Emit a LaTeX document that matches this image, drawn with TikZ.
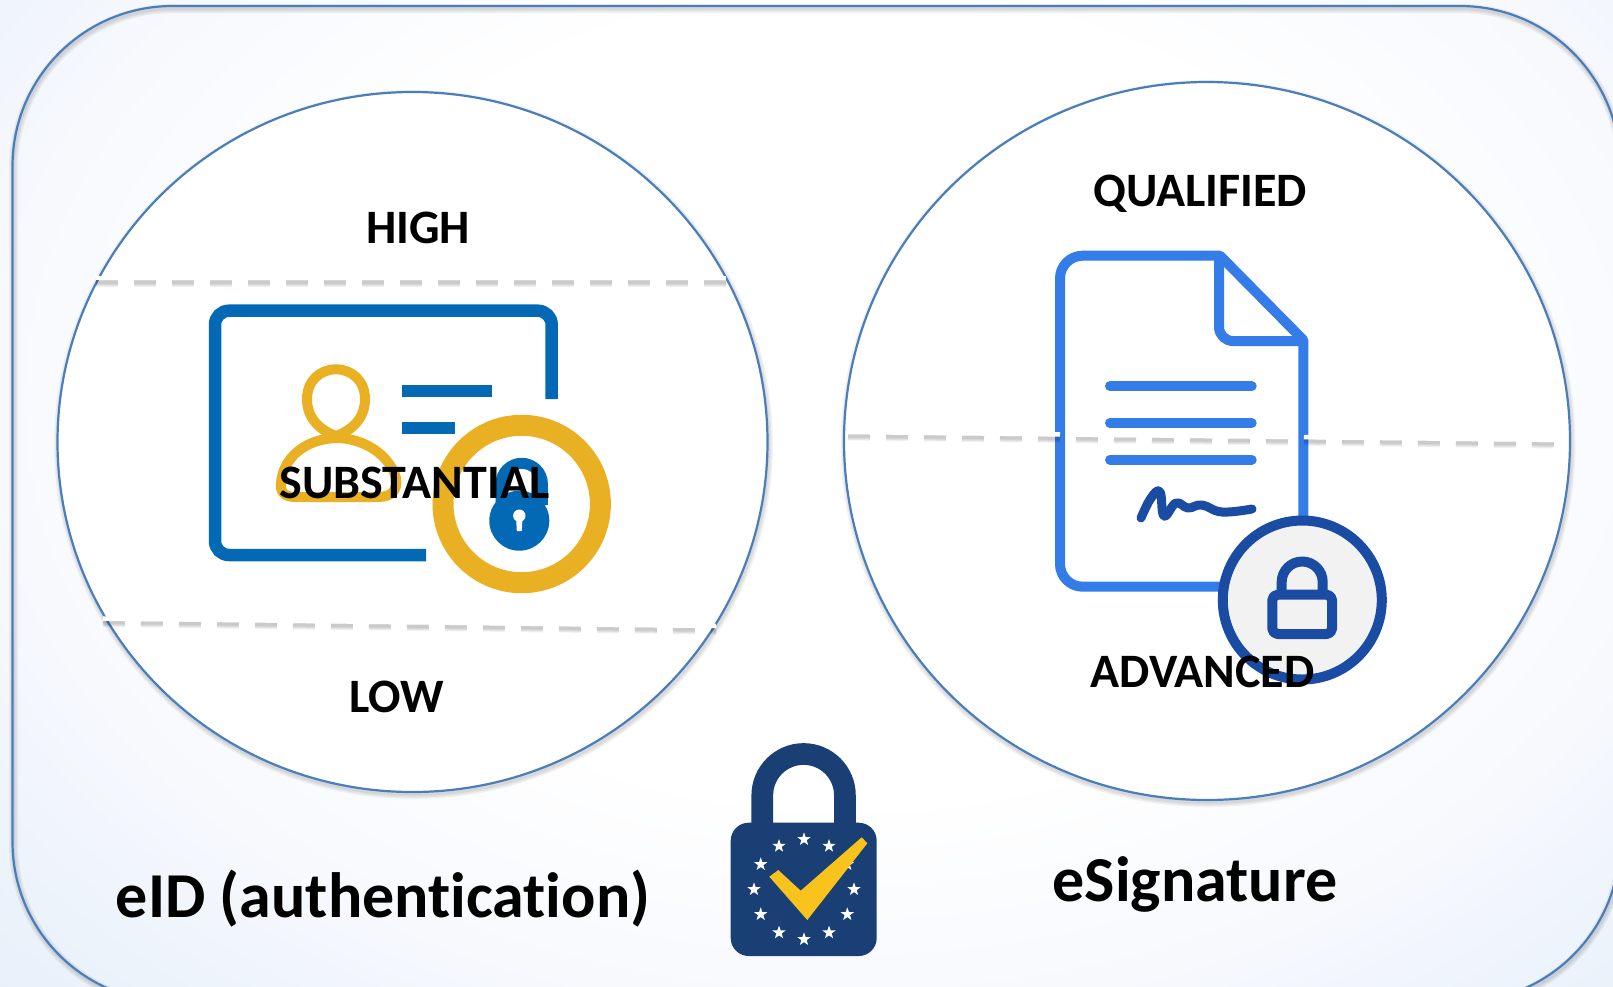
\documentclass[tikz,border=0pt]{standalone}
\usepackage{fontspec}
\setmainfont{Carlito}[Ligatures=CommonOff]
\definecolor{bga}{HTML}{F7F9FD}
\definecolor{bgc}{HTML}{F0F5FC}
\definecolor{bgd}{HTML}{EAF1FA}
\definecolor{bgb}{HTML}{E6EEF9}
\definecolor{frameblue}{HTML}{4A7EBB}
\definecolor{cardblue}{HTML}{0369B4}
\definecolor{gold}{HTML}{E9B023}
\definecolor{docblue}{HTML}{347DE9}
\definecolor{navyblue}{HTML}{1A4CA4}
\definecolor{eunavy}{HTML}{1A3F75}
\definecolor{eugold}{HTML}{F7C31C}
\pgfdeclareradialshading{bgsh}{\pgfpoint{0bp}{0bp}}{color(0bp)=(white); color(15bp)=(white); color(23bp)=(bga); color(27bp)=(bgc); color(31bp)=(bgd); color(36bp)=(bgb); color(50bp)=(bgb)}
\def\px{.75pt}
\tikzset{
  x=.75pt,y=-.75pt,
  frameline/.style={draw=frameblue,line width=2.2*\px},
  softshadow/.style={draw=black,draw opacity=.05,line width=#1*\px,yshift=-2.5*\px,xshift=1*\px},
  dashshadow/.style={draw=black,draw opacity=.055,line width=#1*\px,dash pattern=on 22*\px off 16*\px,yshift=-4*\px},
  dashwhite/.style={draw=white,line width=4.5*\px,dash pattern=on 22*\px off 16*\px},
  lab/.style={font=\bfseries\fontsize{36pt}{36pt}\selectfont,text=black,anchor=base,inner sep=0pt},
  biglab/.style={font=\bfseries\fontsize{48pt}{48pt}\selectfont,text=black,anchor=base,inner sep=0pt},
  card/.style={draw=cardblue,line width=12.5*\px},
  goldline/.style={draw=gold,line width=10*\px},
  docline/.style={draw=docblue,line width=10*\px,line join=round},
  docbar/.style={draw=docblue,line width=10*\px,line cap=round},
  navyline/.style={draw=navyblue,line width=10*\px,line join=round},
}
\newcommand{\eustar}[2]{\fill[white,shift={(#1,#2)}] (-90:7)--(-54:2.8)--(-18:7)--(18:2.8)--(54:7)--(90:2.8)--(126:7)--(162:2.8)--(198:7)--(234:2.8)--cycle;}
\newcommand{\dashrow}[4]{%
  \foreach \w in {9,7,5,3}{\draw[dashshadow=\w] (#1,#2) -- (#3,#4);}
  \draw[dashwhite] (#1,#2) -- (#3,#4);}
\begin{document}
\begin{tikzpicture}
\useasboundingbox (0,0) rectangle (1613,986);
\clip (0,0) rectangle (1613,986);
% background
\path[shading=bgsh] (-74,-260) rectangle (1774,1060);
% outer frame
\foreach \w in {9,6,3}{
  \draw[softshadow=\w,rounded corners=120pt] (12.5,6) rectangle (1620,1002);}
\draw[frameline,rounded corners=120pt] (12.5,6) rectangle (1620,1002);
% circles
\foreach \w in {9,6,3}{
  \draw[softshadow=\w] (412.5,442) ellipse [x radius=355,y radius=350];
  \draw[softshadow=\w] (1207,441) ellipse [x radius=363,y radius=359];}
\draw[frameline,fill=white] (412.5,442) ellipse [x radius=355,y radius=350];
\draw[frameline,fill=white] (1207,441) ellipse [x radius=363,y radius=359];
% ID card icon
\draw[card,rounded corners=10.5pt] (551.7,399) -- (551.7,310.7) -- (215,310.7) -- (215,555) -- (426,555);
\fill[cardblue] (401.7,385) rectangle (491.7,397.3);
\fill[cardblue] (401.7,422.3) rectangle (455,434.3);
\draw[goldline,line join=miter] (336,436) .. controls (322,431) and (307,420) .. (307,399)
  .. controls (307,381) and (320,369.3) .. (336,369.3)
  .. controls (352,369.3) and (365,381) .. (365,399)
  .. controls (365,420) and (350,431) .. (336,436);
\draw[goldline,line join=round] (336,438) .. controls (305,439) and (283,458) .. (281,483)
  .. controls (280,493) and (285,497) .. (296,497) -- (378,497)
  .. controls (392,497) and (398,490) .. (396,478)
  .. controls (390,456) and (365,438) .. (336,438) -- cycle;
\draw[draw=gold,line width=21*\px,fill=white] (521.7,504) circle [radius=78.7];
\draw[draw=cardblue,line width=11*\px] (501,505) -- (501,484) arc [start angle=180,end angle=360,radius=20.7] -- (542.4,505);
\fill[cardblue] (519.3,520.7) circle [radius=30];
\fill[white] (519.3,515.7) circle [radius=6.2];
\fill[white] (516,516) -- (522.6,516) -- (521.8,531) -- (516.8,531) -- cycle;
% document icon
\draw[docline,rounded corners=17pt] (1220,586.7) -- (1060,586.7) -- (1060,255.7) -- (1205,255.7);
\draw[docline] (1205,255.7) -- (1220,255.7) -- (1303.3,340) -- (1303.3,525);
\draw[docline,rounded corners=10.5pt] (1219,258) -- (1219,341) -- (1303.3,341);
\draw[docbar] (1110,386.3) -- (1251.7,386.3);
\draw[docbar] (1110,423) -- (1251.7,423);
\draw[docbar] (1110,459.7) -- (1251.7,459.7);
\draw[draw=navyblue,line width=9*\px,line cap=round,line join=round] plot[smooth,tension=.7] coordinates {(1141,518) (1151,498) (1160,492) (1164,516) (1176,503) (1188,508) (1202,505) (1222,512) (1252,509)};
\draw[navyline,fill=black!5] (1302.3,600) circle [radius=79.5];
\draw[navyline,rounded corners=4pt] (1272.3,594.7) rectangle (1332,634);
\draw[navyline] (1281.7,594.7) -- (1281.7,582) arc [start angle=180,end angle=360,radius=20.5] -- (1322.7,594.7);
% EU lock
\draw[draw=eunavy,line width=21.7*\px] (762.3,830) -- (762.3,795.3) arc [start angle=180,end angle=360,radius=41.3] -- (844.9,830);
\fill[eunavy,rounded corners=13.5pt] (730.7,822.7) rectangle (876.7,956);
\foreach \a in {0,30,...,330}{
  \eustar{{804+50*cos(\a)}}{{889.3+50*sin(\a)}}
}
\fill[eugold] (769.3,876.7) -- (778.3,870) -- (800.7,890.7) -- (861.7,837.3) -- (867.3,843.3) -- (807.3,920) -- cycle;
% dashed level separators
\dashrow{96}{278}{727}{278}
\dashrow{103}{618.5}{716}{626}
\dashrow{848}{432}{1562}{440}
% labels
\node[lab] (high) at (418,243) {HIGH};
\node[lab] (subst) at (414.5,498) {SUBSTANTIAL};
\node[lab] (low) at (396.5,712) {LOW};
\node[lab] (qual) at (1200,206) {QUALIFIED};
\node[lab] (adv) at (1202.5,687) {ADVANCED};
\node[biglab] (eid) at (383,917) {eID (authentication)};
\node[biglab] (esig) at (1195,901) {eSignature};
\end{tikzpicture}
\end{document}
